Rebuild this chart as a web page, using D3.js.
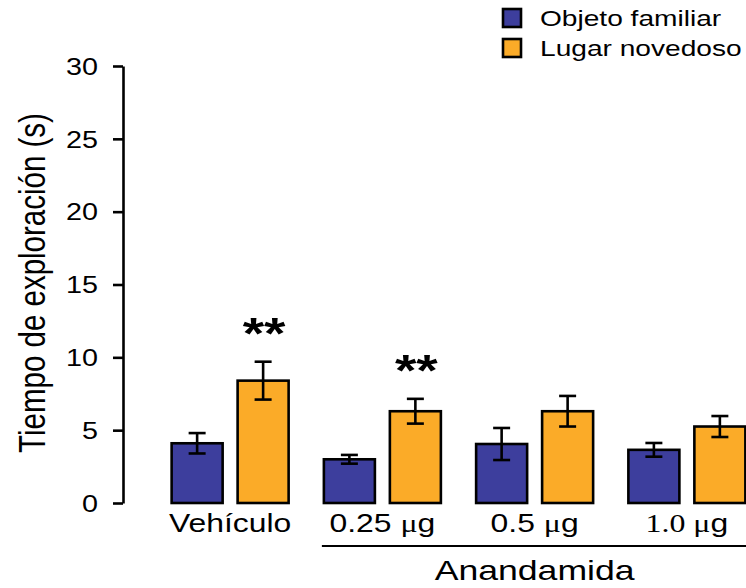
<!DOCTYPE html>
<html>
<head>
<meta charset="utf-8">
<script src="https://cdn.jsdelivr.net/npm/d3@7"></script>
<style>
  html, body { margin: 0; padding: 0; background: #fff; }
  text { font-family: "Liberation Sans", Arial, sans-serif; fill: #000; }
</style>
</head>
<body>
<svg id="chart" width="746" height="588"></svg>
<script>
// ---- data ----
const categories = ["Vehículo", "0.25 μg", "0.5 μg", "1.0 μg"];
const seriesNames = ["Objeto familiar", "Lugar novedoso"];
const familiarMean = [4.1, 3.0, 4.05, 3.65];
const familiarSE   = [0.7, 0.3, 1.1, 0.47];
const novelMean    = [8.4, 6.3, 6.3, 5.25];
const novelSE      = [1.3, 0.85, 1.05, 0.72];
const significance = ["**", "**", "", ""];   // over "Lugar novedoso"
const yTicks = [0, 5, 10, 15, 20, 25, 30];
const groupLabel = "Anandamida";
const groupMembers = ["0.25 μg", "0.5 μg", "1.0 μg"];
const yTitle = "Tiempo de exploración (s)";

const colors = ["#3d3e9d", "#fbab28"];
const SX = 1.25; // horizontal stretch of the original's text

const svg = d3.select("#chart");

const y = d3.scaleLinear().domain([0, 30]).range([503, 66]);
const x0 = d3.scaleBand().domain(categories).range([154, 763]).paddingInner(0).paddingOuter(0);
const x1 = d3.scaleBand().domain(seriesNames).range([-58.5, 58.5]).paddingInner(0.227).paddingOuter(0);

const rows = [];
categories.forEach((c, i) => {
  rows.push({cat: c, s: seriesNames[0], m: familiarMean[i], se: familiarSE[i], sig: ""});
  rows.push({cat: c, s: seriesNames[1], m: novelMean[i], se: novelSE[i], sig: significance[i]});
});
const cx = d => x0(d.cat) + x0.bandwidth() / 2 + x1(d.s);

// bars
svg.append("g").selectAll("rect").data(rows).join("rect")
  .attr("x", d => cx(d))
  .attr("width", x1.bandwidth())
  .attr("y", d => y(d.m))
  .attr("height", d => y(0) - y(d.m))
  .attr("fill", d => colors[seriesNames.indexOf(d.s)])
  .attr("stroke", "#000")
  .attr("stroke-width", 2.6);

// error bars
const eb = svg.append("g").attr("stroke", "#000").attr("stroke-width", 2.6).attr("fill", "none");
rows.forEach(d => {
  const xm = cx(d) + x1.bandwidth() / 2;
  eb.append("line").attr("x1", xm).attr("x2", xm).attr("y1", y(d.m + d.se)).attr("y2", y(d.m - d.se));
  eb.append("line").attr("x1", xm - 8.5).attr("x2", xm + 8.5).attr("y1", y(d.m + d.se)).attr("y2", y(d.m + d.se));
  eb.append("line").attr("x1", xm - 8.5).attr("x2", xm + 8.5).attr("y1", y(d.m - d.se)).attr("y2", y(d.m - d.se));
});

// significance stars
rows.filter(d => d.sig).forEach(d => {
  const xm = cx(d) + x1.bandwidth() / 2;
  svg.append("text")
    .attr("transform", `translate(${xm + 1},${y(d.m + d.se) - 13}) scale(${SX},1)`)
    .attr("text-anchor", "middle")
    .style("font-size", "44px").style("font-weight", "bold")
    .text(d.sig);
});

// y axis
const yAxis = svg.append("g").attr("transform", "translate(123,0)")
  .call(d3.axisLeft(y).tickValues(yTicks).tickSize(10).tickSizeOuter(0).tickFormat(d3.format("d")));
yAxis.select(".domain").attr("stroke", "#000").attr("stroke-width", 2.6);
yAxis.selectAll(".tick line").attr("stroke", "#000").attr("stroke-width", 2.6);
yAxis.selectAll(".tick text")
  .attr("x", -20).attr("dy", "0.36em")
  .attr("transform", `scale(${SX},1)`)
  .style("font-size", "23px")
  .style("font-family", "'Liberation Sans', Arial, sans-serif")
  .attr("fill", "#000");

// y title
svg.append("text")
  .attr("transform", `translate(45,283) scale(${SX},1) rotate(-90)`)
  .attr("text-anchor", "middle")
  .style("font-size", "29.5px")
  .text(yTitle);

// category labels
const catG = svg.append("g");
categories.forEach(c => {
  const t = catG.append("text")
    .attr("transform", `translate(${x0(c) + x0.bandwidth() / 2},532) scale(${SX},1)`)
    .attr("text-anchor", "middle")
    .style("font-size", "25.5px");
  const parts = c.split(" ");
  if (parts.length === 1) { t.text(c); return; }
  const num = parts[0];
  const unit = parts[1];
  const serifNum = num.startsWith("1");
  t.append("tspan").style("font-family", serifNum ? "'Liberation Serif', serif" : null).text(num + " ");
  t.append("tspan").style("font-family", "'Liberation Serif', serif").text(unit[0]);
  t.append("tspan").text(unit.slice(1));
});

// group bracket: Anandamida
const gx0 = x0(groupMembers[0]) + x0.bandwidth() / 2 + x1(seriesNames[0]) - 2;
const gx1 = 746;
svg.append("line").attr("x1", gx0).attr("x2", gx1).attr("y1", 546).attr("y2", 546)
  .attr("stroke", "#000").attr("stroke-width", 2);
const gc = (x0(groupMembers[0]) + x0(groupMembers[groupMembers.length - 1]) + x0.bandwidth()) / 2;
svg.append("text")
  .attr("transform", `translate(${gc},580) scale(${SX},1)`)
  .attr("text-anchor", "middle")
  .style("font-size", "28.5px")
  .text(groupLabel);

// legend
const lg = svg.append("g").attr("transform", "translate(502,8)");
seriesNames.forEach((s, i) => {
  const g = lg.append("g").attr("transform", `translate(0,${i * 30})`);
  g.append("rect").attr("x", 1).attr("y", 1).attr("width", 18).attr("height", 18)
    .attr("fill", colors[i]).attr("stroke", "#000").attr("stroke-width", 2.6);
  g.append("text")
    .attr("transform", `translate(38,18) scale(${SX},1)`)
    .style("font-size", "22.5px")
    .text(s);
});
</script>
</body>
</html>
